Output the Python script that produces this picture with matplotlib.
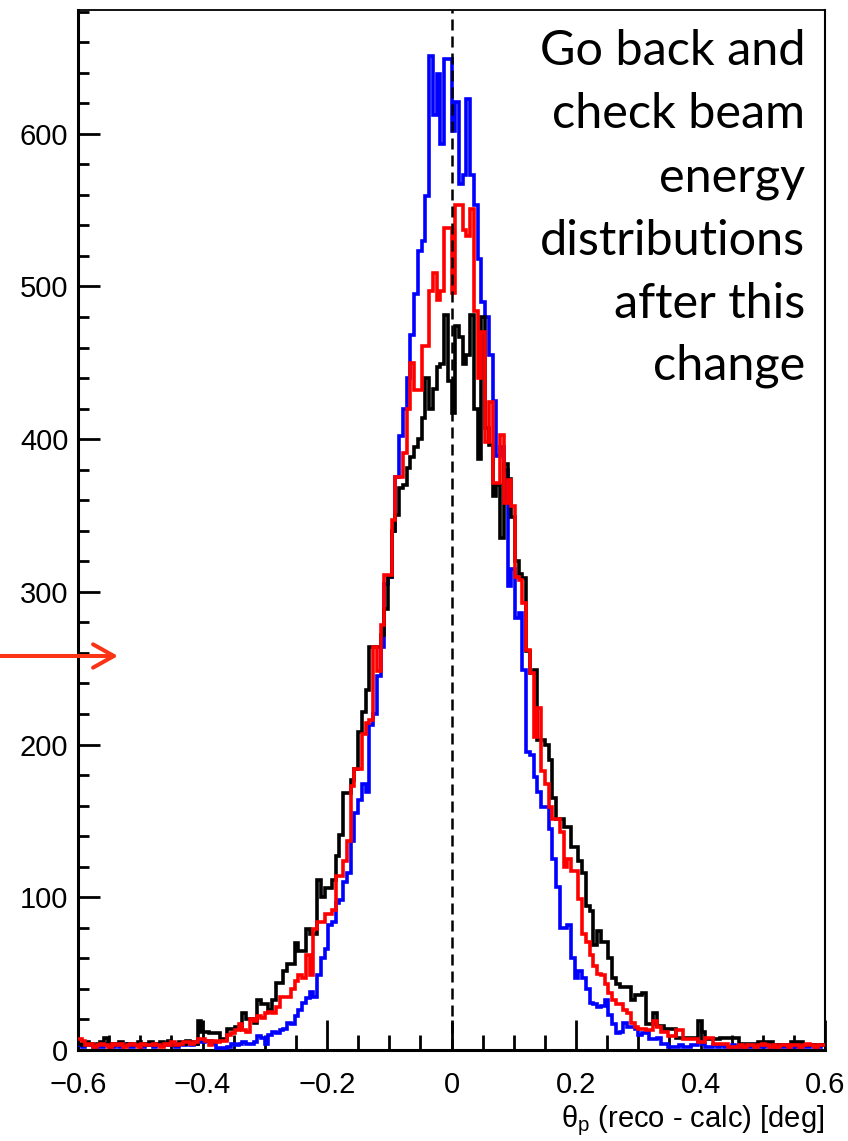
import numpy as np
import matplotlib
matplotlib.use("Agg")
import matplotlib.pyplot as plt
from matplotlib.ticker import MultipleLocator, FixedLocator, FixedFormatter
from matplotlib.patches import FancyArrowPatch

# ---------------- histogram data (200 bins, -0.6 .. 0.6 deg) ----------------
x_min, x_max, n_bins = -0.6, 0.6, 200

black_counts = [
    4, 3, 5, 4, 3, 4, 5, 8, 4, 3,
    4, 5, 3, 4, 4, 3, 5, 4, 3, 5,
    4, 3, 5, 4, 6, 4, 3, 5, 4, 6,
    5, 4, 19, 12, 12, 11, 11, 11, 7, 7,
    14, 14, 15, 15, 24, 20, 20, 18, 33, 30,
    30, 26, 33, 44, 44, 52, 56, 56, 70, 65,
    65, 79, 76, 76, 111, 100, 106, 106, 111, 127,
    141, 168, 168, 177, 184, 208, 221, 236, 264, 264,
    264, 272, 289, 310, 340, 350, 368, 370, 381, 388,
    395, 400, 414, 440, 420, 433, 447, 449, 481, 438,
    417, 474, 467, 449, 455, 481, 420, 387, 480, 407,
    396, 363, 370, 335, 384, 374, 349, 320, 312, 309,
    261, 247, 249, 203, 203, 200, 190, 165, 151, 151,
    146, 146, 133, 133, 124, 116, 94, 91, 69, 78,
    71, 71, 60, 47, 43, 41, 41, 41, 33, 36,
    36, 37, 17, 17, 24, 16, 16, 14, 14, 14,
    8, 8, 8, 8, 8, 8, 19, 12, 7, 7,
    7, 7, 8, 8, 8, 8, 8, 4, 4, 4,
    4, 4, 5, 5, 5, 5, 3, 3, 3, 3,
    3, 5, 5, 5, 3, 3, 3, 3, 3, 3,
]

red_counts = [
    7, 6, 3, 4, 2, 3, 4, 3, 2, 4,
    3, 4, 2, 3, 4, 3, 2, 4, 3, 3,
    4, 3, 2, 4, 3, 5, 3, 4, 5, 5,
    4, 5, 7, 7, 6, 3, 6, 5, 6, 6,
    10, 11, 13, 17, 13, 12, 20, 19, 22, 21,
    24, 25, 24, 28, 35, 35, 35, 40, 45, 49,
    47, 62, 49, 79, 84, 84, 89, 89, 92, 114,
    114, 124, 137, 173, 184, 184, 207, 214, 216, 264,
    248, 278, 311, 311, 347, 375, 375, 391, 420, 450,
    432, 432, 461, 461, 497, 509, 491, 497, 538, 538,
    496, 553, 553, 537, 533, 551, 484, 440, 470, 398,
    424, 371, 371, 403, 358, 373, 356, 310, 308, 293,
    262, 247, 205, 224, 183, 174, 159, 151, 151, 143,
    120, 125, 117, 117, 99, 76, 71, 62, 55, 50,
    49, 43, 37, 33, 30, 30, 26, 24, 18, 15,
    14, 14, 13, 13, 19, 15, 12, 12, 9, 9,
    13, 13, 7, 7, 7, 7, 5, 5, 8, 8,
    4, 4, 4, 4, 2, 2, 2, 3, 2, 3,
    3, 2, 3, 4, 3, 2, 3, 2, 3, 3,
    2, 3, 3, 2, 3, 4, 3, 2, 3, 3,
]

blue_counts = [
    3, 2, 4, 3, 2, 3, 2, 4, 3, 2,
    3, 2, 3, 4, 2, 3, 3, 2, 4, 3,
    2, 4, 3, 3, 5, 3, 2, 4, 3, 5,
    3, 4, 6, 5, 6, 6, 4, 1, 1, 1,
    2, 4, 3, 4, 5, 4, 4, 5, 9, 8,
    4, 10, 12, 11, 13, 14, 18, 17, 22, 26,
    31, 34, 38, 35, 49, 60, 66, 82, 84, 96,
    98, 110, 116, 137, 155, 164, 174, 169, 213, 220,
    245, 264, 305, 310, 340, 375, 402, 420, 440, 468,
    495, 523, 530, 559, 651, 612, 639, 593, 649, 649,
    602, 621, 567, 573, 623, 573, 553, 518, 490, 480,
    455, 425, 389, 395, 380, 304, 315, 283, 286, 249,
    195, 193, 179, 169, 159, 159, 145, 125, 107, 80,
    80, 82, 60, 47, 52, 47, 40, 31, 30, 28,
    29, 33, 23, 17, 11, 12, 18, 15, 15, 14,
    10, 11, 12, 7, 7, 8, 4, 4, 2, 2,
    2, 3, 2, 2, 3, 3, 5, 4, 2, 2,
    3, 2, 3, 2, 2, 3, 2, 2, 3, 2,
    2, 3, 2, 2, 3, 2, 2, 3, 2, 2,
    3, 2, 2, 3, 2, 2, 3, 2, 2, 3,
]

y_max = 681
y_ticks = [0, 100, 200, 300, 400, 500, 600]
x_ticks = [-0.6, -0.4, -0.2, 0.0, 0.2, 0.4, 0.6]
x_tick_labels = ["\u22120.6", "\u22120.4", "\u22120.2", "0", "0.2", "0.4", "0.6"]
x_title = r"$\mathrm{\theta}_{\mathrm{p}}$ (reco - calc) [deg]"
note_lines = ["Go back and", "check beam", "energy",
              "distributions", "after this", "change"]
arrow_level = 258   # counts level marked by the arrow on the left

# ---------------- figure ----------------
plt.rcParams["mathtext.fontset"] = "custom"
plt.rcParams["mathtext.rm"] = "Liberation Sans"
plt.rcParams["mathtext.it"] = "Liberation Sans:italic"

W, H = 848, 1141
fig = plt.figure(figsize=(W / 100, H / 100), dpi=100)
ax = fig.add_axes([78 / W, 91 / H, 747 / W, 1040 / H])

edges = np.linspace(x_min, x_max, n_bins + 1)
hist_lw = 2.6
ax.stairs(blue_counts, edges, color="#0000ff", lw=hist_lw, baseline=None, zorder=3)
ax.stairs(black_counts, edges, color="black", lw=hist_lw, baseline=None, zorder=4)
ax.stairs(red_counts, edges, color="#ff0000", lw=hist_lw, baseline=None, zorder=5)

ax.axvline(0.0, color="black", lw=1.8, linestyle=(0, (4.4, 2.4)), zorder=6)

ax.set_xlim(x_min, x_max)
ax.set_ylim(0, y_max)

# axis ticks, ROOT style (inward)
ax.xaxis.set_major_locator(FixedLocator(x_ticks))
ax.xaxis.set_major_formatter(FixedFormatter(x_tick_labels))
ax.xaxis.set_minor_locator(MultipleLocator(0.05))
ax.yaxis.set_major_locator(FixedLocator(y_ticks))
ax.yaxis.set_minor_locator(MultipleLocator(20))

ax.tick_params(axis="x", which="major", direction="in", length=21.6, width=2,
               pad=15, labelsize=21)
ax.tick_params(axis="x", which="minor", direction="in", length=10.8, width=2)
ax.tick_params(axis="y", which="major", direction="in", length=15.8, width=2,
               pad=7, labelsize=21)
ax.tick_params(axis="y", which="minor", direction="in", length=7.9, width=2)
for lab in ax.get_xticklabels() + ax.get_yticklabels():
    lab.set_fontfamily("Liberation Sans")

ax.spines["left"].set_linewidth(2.2)
ax.spines["bottom"].set_linewidth(2.2)
ax.spines["top"].set_linewidth(1.3)
ax.spines["right"].set_linewidth(1.5)

# axis title, right aligned under the axis
fig.text(824 / W, 1 - 1121 / H, x_title, ha="right", va="center",
         fontsize=21, family="Liberation Sans")

# note in the upper right corner
baselines = [65, 128, 192, 255, 318, 380]
for line, yb in zip(note_lines, baselines):
    fig.text(805 / W, 1 - yb / H, line, ha="right", va="baseline",
             fontsize=35, family="Lato", color="black")

# red arrow pointing at the level on the left axis
y_fig = ax.transData.transform((x_min, arrow_level))[1] / H
arrow = FancyArrowPatch((0.0, y_fig), (118 / W, y_fig),
                        transform=fig.transFigure,
                        arrowstyle="->,head_length=0.75,head_width=0.42",
                        mutation_scale=20, lw=2.9, color="#fa3414",
                        shrinkA=0, shrinkB=0, capstyle="round", zorder=10)
fig.add_artist(arrow)

fig.savefig("out.png", dpi=100)
